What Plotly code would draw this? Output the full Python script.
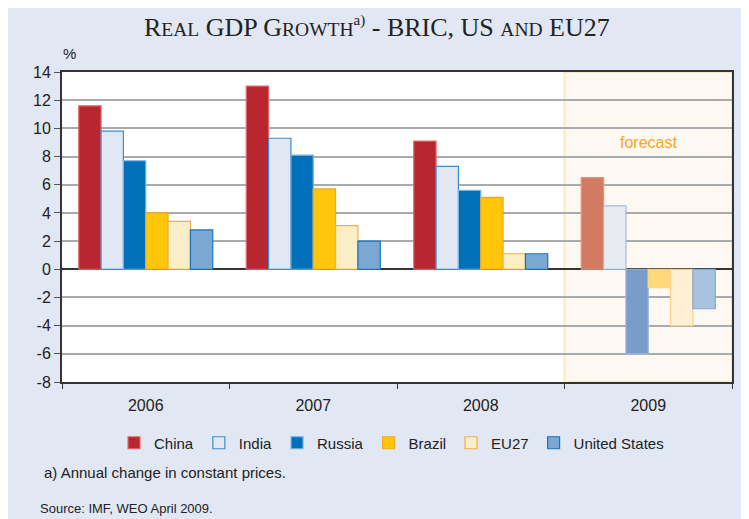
import plotly.graph_objects as go

years = ["2006", "2007", "2008", "2009"]
series = ["China", "India", "Russia", "Brazil", "EU27", "United States"]
china = [11.6, 13.0, 9.1, 6.5]
india = [9.8, 9.3, 7.3, 4.5]
russia = [7.7, 8.1, 5.6, -6.0]
brazil = [4.0, 5.7, 5.1, -1.3]
eu27 = [3.4, 3.1, 1.1, -4.0]
us = [2.8, 2.0, 1.1, -2.8]
y_ticks = [-8, -6, -4, -2, 0, 2, 4, 6, 8, 10, 12, 14]
y_tick_labels = ["-8", "-6", "-4", "-2", "0", "2", "4", "6", "8", "10", "12", "14"]

values = [china, india, russia, brazil, eu27, us]
fills = ["#B8262F", "#E1E8F3", "#0070BB", "#FFC60B", "#FAEEC8", "#7BA8D2"]
fills09 = ["#D27A62", "#E8ECF2", "#7A9CC8", "#FFD97A", "#FDF0D5", "#A9C3DE"]
lines = ["#E06A6E", "#3C8CD0", "#7AB4E0", "#F5A623", "#F5B041", "#1874C0"]
lines09 = ["#E0937E", "#9FBCE0", "#9CB7DA", "#FDD58A", "#FAD08C", "#7FA6D6"]

OFF = 8  # page offset of the figure inside the browser window
W, H = 749 - OFF, 519 - OFF
L, T = 62 - OFF, 72 - OFF
R = W - (732 - OFF)
B = H - (382 - OFF)
PH = H - T - B
PW = W - L - R


def py(page_y):
    return (H - B - (page_y - OFF)) / PH


def px(page_x):
    return ((page_x - OFF) - L) / PW


fig = go.Figure()
for name, vals, f, f9, l, l9 in zip(series, values, fills, fills09, lines, lines09):
    fig.add_trace(go.Bar(
        x=years, y=vals, name=name,
        marker=dict(color=[f, f, f, f9], line=dict(color=[l, l, l, l9], width=1.2)),
    ))

fig.add_shape(type="rect", xref="x", yref="paper", x0=2.5, x1=3.5, y0=0, y1=1,
              fillcolor="#FDF9F2", line=dict(color="#FCE9C0", width=2), layer="below")

sc = "<span style='font-size:19.5px'>{}</span>"
title = ("R" + sc.format("EAL") + " GDP G" + sc.format("ROWTH")
         + "<sup><span style='font-size:15px'>a)</span></sup> - BRIC, US "
         + sc.format("AND") + " EU27")

fig.update_layout(
    width=W, height=H,
    margin=dict(l=L, r=R, t=T, b=B, autoexpand=False),
    paper_bgcolor="#E1E8F4", plot_bgcolor="#FFFFFF",
    barmode="group", bargap=0.2, bargroupgap=0,
    showlegend=True,
    legend=dict(orientation="h", x=px(114), xanchor="left", y=py(443), yanchor="middle",
                font=dict(family="Liberation Sans, Arial", size=15, color="#222"),
                bgcolor="rgba(0,0,0,0)", traceorder="normal"),
    font=dict(family="Liberation Sans, Arial", size=15, color="#222"),
)

fig.add_annotation(x=3, y=9.0, xref="x", yref="y", text="forecast", showarrow=False,
                   font=dict(family="Liberation Sans, Arial", size=16, color="#F5A623"))
fig.add_annotation(x=px(377), y=py(27), xref="paper", yref="paper", text=title,
                   showarrow=False, yanchor="middle", xanchor="center",
                   font=dict(family="Liberation Serif, Times New Roman", size=26, color="#222"))
fig.add_annotation(x=px(69), y=py(53), xref="paper", yref="paper", text="%",
                   showarrow=False, yanchor="middle", xanchor="center",
                   font=dict(family="Liberation Sans, Arial", size=15, color="#222"))
fig.add_annotation(x=px(42), y=py(472), xref="paper", yref="paper", yanchor="middle", xanchor="left",
                   text="a) Annual change in constant prices.", showarrow=False,
                   font=dict(family="Liberation Sans, Arial", size=15, color="#222"))
fig.add_annotation(x=px(38), y=py(508), xref="paper", yref="paper", yanchor="middle", xanchor="left",
                   text="Source: IMF, WEO April 2009.", showarrow=False,
                   font=dict(family="Liberation Sans, Arial", size=13, color="#222"))

fig.update_xaxes(type="category", showline=True, linecolor="#333", linewidth=2, mirror=True,
                 ticks="outside", tickson="boundaries", ticklen=5, tickcolor="#333",
                 showgrid=False, tickfont=dict(size=16), range=[-0.5, 3.5],
                 ticklabelstandoff=8)
fig.update_yaxes(range=[-8, 14], tickvals=y_ticks, ticktext=y_tick_labels,
                 showline=True, linecolor="#333", linewidth=2,
                 mirror=True, ticks="outside", ticklen=6, tickcolor="#555",
                 showgrid=True, gridcolor="#A8ABAE", gridwidth=1.5,
                 zeroline=True, zerolinecolor="#333", zerolinewidth=2,
                 tickfont=dict(size=16))

fig.write_html("out.html")
